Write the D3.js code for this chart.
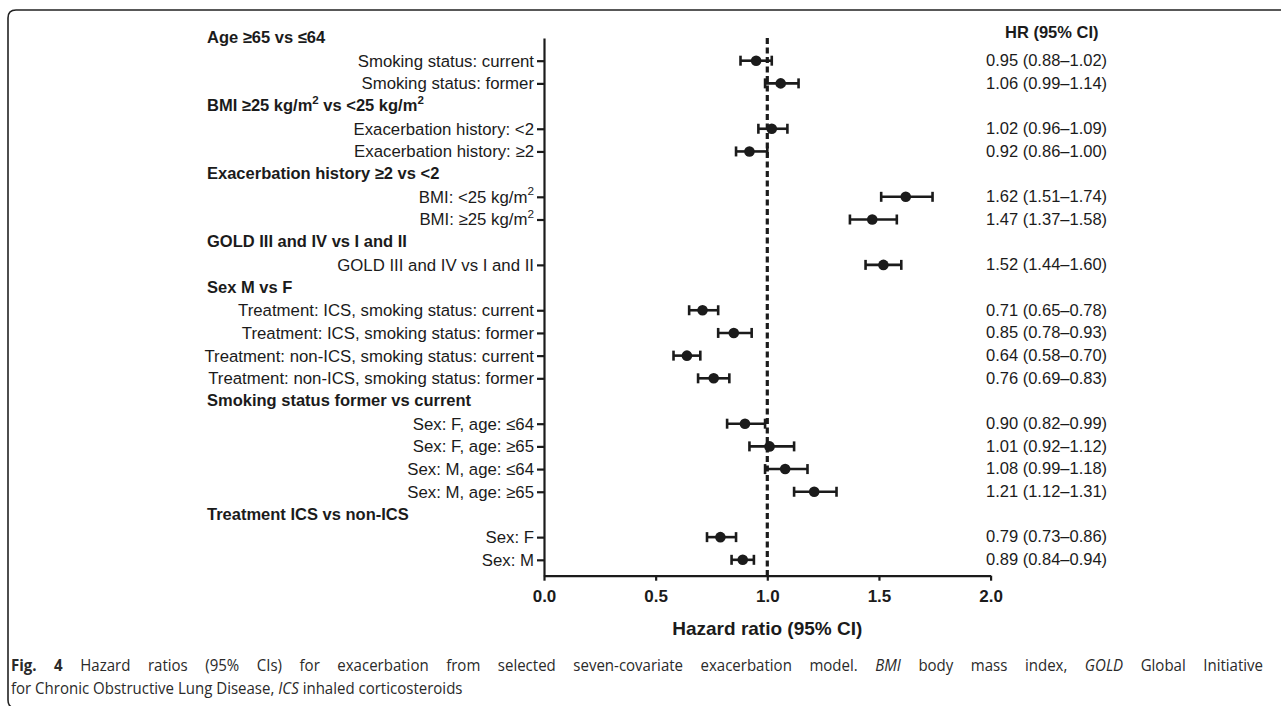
<!DOCTYPE html>
<html><head><meta charset="utf-8">
<script src="https://cdn.jsdelivr.net/npm/d3@7"></script>
<style>
body{margin:0;background:#fff;}
svg{display:block;}
</style></head>
<body>
<svg id="c" width="1281" height="706"></svg>
<script>
// ---- data ----
const rowLabels = [
  "Age ≥65 vs ≤64",
  "Smoking status: current",
  "Smoking status: former",
  "BMI ≥25 kg/m2 vs <25 kg/m2",
  "Exacerbation history: <2",
  "Exacerbation history: ≥2",
  "Exacerbation history ≥2 vs <2",
  "BMI: <25 kg/m2",
  "BMI: ≥25 kg/m2",
  "GOLD III and IV vs I and II",
  "GOLD III and IV vs I and II",
  "Sex M vs F",
  "Treatment: ICS, smoking status: current",
  "Treatment: ICS, smoking status: former",
  "Treatment: non-ICS, smoking status: current",
  "Treatment: non-ICS, smoking status: former",
  "Smoking status former vs current",
  "Sex: F, age: ≤64",
  "Sex: F, age: ≥65",
  "Sex: M, age: ≤64",
  "Sex: M, age: ≥65",
  "Treatment ICS vs non-ICS",
  "Sex: F",
  "Sex: M"
];
const isHeader = [1,0,0,1,0,0,1,0,0,1,0,1,0,0,0,0,1,0,0,0,0,1,0,0];
const hrValues = [null,0.95,1.06,null,1.02,0.92,null,1.62,1.47,null,1.52,null,0.71,0.85,0.64,0.76,null,0.90,1.01,1.08,1.21,null,0.79,0.89];
const ciLow    = [null,0.88,0.99,null,0.96,0.86,null,1.51,1.37,null,1.44,null,0.65,0.78,0.58,0.69,null,0.82,0.92,0.99,1.12,null,0.73,0.84];
const ciHigh   = [null,1.02,1.14,null,1.09,1.00,null,1.74,1.58,null,1.60,null,0.78,0.93,0.70,0.83,null,0.99,1.12,1.18,1.31,null,0.86,0.94];
const xTicks = [0.0,0.5,1.0,1.5,2.0];
const xTickLabels = ["0.0","0.5","1.0","1.5","2.0"];
const refValue = 1.0;
const xTitle = "Hazard ratio (95% CI)";
const colTitle = "HR (95% CI)";

const rows = rowLabels.map((l,i)=>({i, label:l, header:!!isHeader[i], hr:hrValues[i], lo:ciLow[i], hi:ciHigh[i]}));
const dataRows = rows.filter(r=>!r.header);

const ink = "#1b1b1b";
const svg = d3.select("#c");
const FONT = "'Liberation Sans', Arial, sans-serif";
const FS = 16.5;

const x = d3.scaleLinear().domain([0,2]).range([544,990.6]);
const y = d3.scaleLinear().domain([0,23.7]).range([38,575.7]);

// frame
svg.append("path")
  .attr("d","M1290,10 L16,10 Q8,10 8,18 L8,700 Q8,708 16,708")
  .attr("fill","none").attr("stroke","#222").attr("stroke-width",1.6);

// x axis
const gx = svg.append("g").attr("transform",`translate(0,${y(23.7)})`)
  .call(d3.axisBottom(x).tickValues(xTicks).tickFormat((d,i)=>xTickLabels[i]).tickSize(5).tickSizeOuter(0));
gx.select(".domain").attr("stroke",ink).attr("stroke-width",2.2);
gx.selectAll(".tick line").attr("stroke",ink).attr("stroke-width",2.2);
gx.selectAll(".tick text").attr("font-family",FONT).attr("font-weight","bold").attr("font-size",17)
  .attr("fill",ink).attr("dy","1.1em");

svg.append("text").attr("x",x(1)).attr("y",635).attr("text-anchor","middle")
  .attr("font-family",FONT).attr("font-weight","bold").attr("font-size",19).attr("fill",ink).text(xTitle);

// y axis
const gy = svg.append("g").attr("transform",`translate(${x(0)},0)`)
  .call(d3.axisLeft(y).tickValues(dataRows.map(r=>r.i)).tickFormat(i=>rowLabels[i]).tickSize(7).tickSizeOuter(0).tickPadding(3));
gy.select(".domain").attr("stroke",ink).attr("stroke-width",2.2);
gy.selectAll(".tick line").attr("stroke",ink).attr("stroke-width",2.2);
gy.selectAll(".tick text").attr("font-family",FONT).attr("font-size",16.8).attr("fill",ink);

function supText(sel, str){
  // render "kg/m2" with superscript 2
  sel.text(null);
  const parts = str.split("kg/m2");
  let raised = false;
  parts.forEach((p,k)=>{
    const txt = p + (k<parts.length-1?"kg/m":"");
    if(txt.length){
      const t = sel.append("tspan").text(txt);
      if(raised){ t.attr("dy","0.45em"); raised=false; }
    }
    if(k<parts.length-1){
      sel.append("tspan").attr("font-size","0.7em").attr("dy","-0.65em").text("2");
      raised = true;
    }
  });
}
gy.selectAll(".tick text").each(function(i){ if(rowLabels[i].includes("kg/m2")) supText(d3.select(this), rowLabels[i]); });

// headers
rows.filter(r=>r.header).forEach(r=>{
  const t = svg.append("text").attr("x",207).attr("y",y(r.i)).attr("dy","0.32em")
    .attr("font-family",FONT).attr("font-weight","bold").attr("font-size",FS).attr("fill",ink);
  if(r.label.includes("kg/m2")) supText(t, r.label); else t.text(r.label);
});

// reference dashed line
svg.append("line").attr("x1",x(refValue)).attr("x2",x(refValue)).attr("y1",y(0)).attr("y2",y(23.7))
  .attr("stroke",ink).attr("stroke-width",3.2).attr("stroke-dasharray","6,3.5");

// CI whiskers
const g = svg.append("g");
g.selectAll("line.ci").data(dataRows).join("line").attr("class","ci")
  .attr("x1",d=>x(d.lo)).attr("x2",d=>x(d.hi)).attr("y1",d=>y(d.i)).attr("y2",d=>y(d.i))
  .attr("stroke",ink).attr("stroke-width",2.6);
["lo","hi"].forEach(k=>{
  g.selectAll("line.cap"+k).data(dataRows).join("line").attr("class","cap"+k)
    .attr("x1",d=>x(d[k])).attr("x2",d=>x(d[k])).attr("y1",d=>y(d.i)-5).attr("y2",d=>y(d.i)+5)
    .attr("stroke",ink).attr("stroke-width",2.6);
});
g.selectAll("circle").data(dataRows).join("circle")
  .attr("cx",d=>x(d.hr)).attr("cy",d=>y(d.i)).attr("r",5.3).attr("fill",ink);

// HR column
svg.append("text").attr("x",1005).attr("y",33).attr("dy","0.32em")
  .attr("font-family",FONT).attr("font-weight","bold").attr("font-size",FS).attr("fill",ink).text(colTitle);
const f = d3.format(".2f");
svg.selectAll("text.hr").data(dataRows).join("text").attr("class","hr")
  .attr("x",986).attr("y",d=>y(d.i)).attr("dy","0.32em")
  .attr("font-family",FONT).attr("font-size",FS).attr("fill",ink)
  .text(d=>`${f(d.hr)} (${f(d.lo)}–${f(d.hi)})`);

// caption: condensed look (horizontal scale), first line justified
const CAP = "'Open Sans', sans-serif";
const capG = svg.append("g");
const c1 = capG.append("text").attr("x",0).attr("y",671).attr("font-family",CAP).attr("font-size",16.5).attr("fill","#2a2a2a");
c1.append("tspan").attr("font-weight","bold").text("Fig. 4");
c1.append("tspan").text(" Hazard ratios (95% CIs) for exacerbation from selected seven-covariate exacerbation model. ");
c1.append("tspan").attr("font-style","italic").text("BMI");
c1.append("tspan").text(" body mass index, ");
c1.append("tspan").attr("font-style","italic").text("GOLD");
c1.append("tspan").text(" Global Initiative");
const c2 = capG.append("text").attr("x",0).attr("y",694).attr("font-family",CAP).attr("font-size",16.5).attr("fill","#2a2a2a");
c2.append("tspan").text("for Chronic Obstructive Lung Disease, ");
c2.append("tspan").attr("font-style","italic").text("ICS");
c2.append("tspan").text(" inhaled corticosteroids");
const w2 = c2.node().getComputedTextLength();
const sx = 452 / w2;
capG.attr("transform",`translate(11,0) scale(${sx},1)`);
const w1 = c1.node().getComputedTextLength();
const nSpaces = (c1.text().match(/ /g)||[]).length;
const ws = Math.max(0,(1252/sx - w1)/nSpaces);
c1.attr("word-spacing",ws);
</script>
</body></html>
